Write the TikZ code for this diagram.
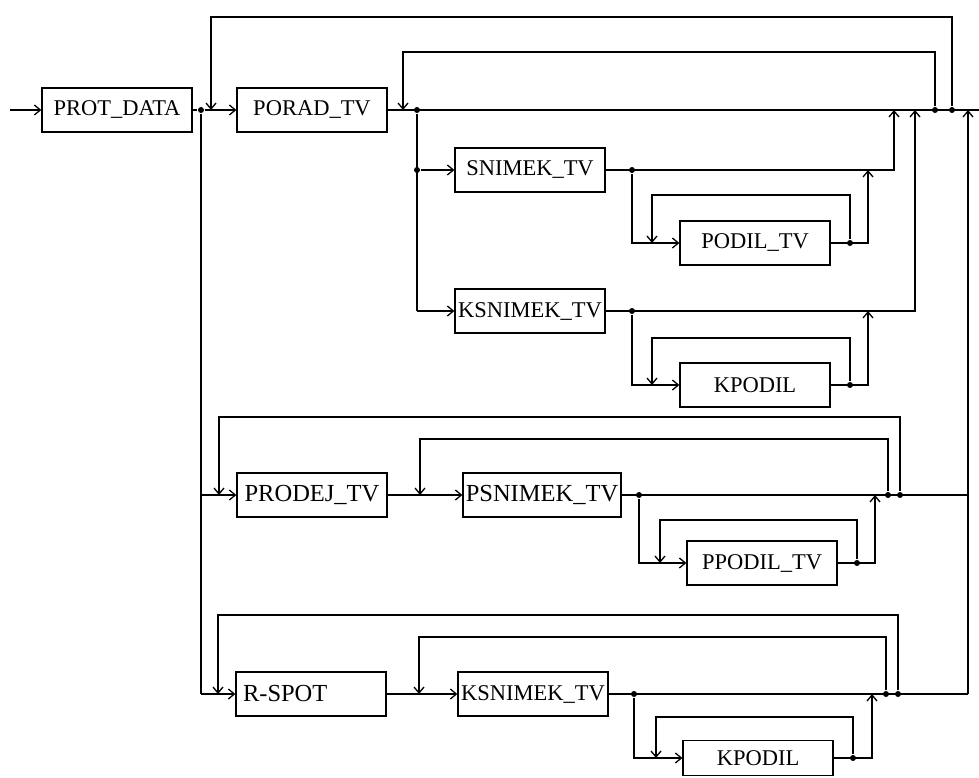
\documentclass[tikz,border=0pt]{standalone}
\usepackage{fontspec}
\setmainfont{Liberation Serif}
\usetikzlibrary{arrows.meta}

\tikzset{
  blok/.style={draw, minimum width=150pt, minimum height=44pt, inner sep=2pt, font=\fontsize{22.5}{26}\selectfont},
  blokv/.style={blok, font=\fontsize{24.5}{28}\selectfont},
  tecka/.style={circle, fill, inner sep=0pt, minimum size=6pt},
}

\begin{document}
\begin{tikzpicture}[x=1pt,y=-1pt,line width=1.3pt,>={Straight Barb[length=6pt,width=10pt]}]
\useasboundingbox (0,0) rectangle (979,778);

% Bloky
\node[blok] (prot) at (117,110) {PROT\_DATA};
\node[blok] (porad) at (312,110) {PORAD\_TV};
\node[blok] (snimek) at (530,170) {SNIMEK\_TV};
\node[blok] (podil) at (755,243) {PODIL\_TV};
\node[blok] (ksnimek) at (530,311) {KSNIMEK\_TV};
\node[blok] (kpodil) at (755,385) {KPODIL};
\node[blokv] (prodej) at (312,495) {PRODEJ\_TV};
\node[blokv, minimum width=158pt] (psnimek) at (542,495) {PSNIMEK\_TV};
\node[blok] (ppodil) at (762,563) {PPODIL\_TV};
\node[blokv, text width=136pt, inner xsep=7pt, align=left] (rspot) at (311,694) {R-SPOT};
\node[blok] (ksnimek2) at (533,694) {KSNIMEK\_TV};
\node[blok, minimum height=35pt] (kpodil2) at (758,758) {KPODIL};

% Tecky
\node[tecka] (j1) at (201,110) {};
\node[tecka] (j2) at (417,110) {};
\node[tecka] (j3) at (417,170) {};
\node[tecka] (f1) at (952,110) {};
\node[tecka] (f2) at (935,110) {};
\node[tecka] (s1) at (632,170) {};
\node[tecka] (s2) at (850,243) {};
\node[tecka] (k1) at (632,311) {};
\node[tecka] (k2) at (850,385) {};
\node[tecka] (p1) at (639,495) {};
\node[tecka] (p2) at (857,563) {};
\node[tecka] (p3) at (888,495) {};
\node[tecka] (p4) at (900,495) {};
\node[tecka] (r1) at (634,694) {};
\node[tecka] (r2) at (853,758) {};
\node[tecka] (r3) at (886,694) {};
\node[tecka] (r4) at (898,694) {};

% Volne konce
\coordinate (vstup) at (10,110);
\coordinate (e1) at (979,110);
\coordinate (d1) at (211,110);
\coordinate (d2) at (403,110);
\coordinate (u1) at (894,110);
\coordinate (u2) at (915,110);
\coordinate (u3) at (968,110);
\coordinate (a1) at (652,243);
\coordinate (a2) at (868,170);
\coordinate (a3) at (652,385);
\coordinate (a4) at (868,311);
\coordinate (b1) at (219,495);
\coordinate (b2) at (420,495);
\coordinate (b3) at (660,563);
\coordinate (b4) at (875,495);
\coordinate (b5) at (968,495);
\coordinate (c1) at (218,694);
\coordinate (c2) at (419,694);
\coordinate (c3) at (656,758);
\coordinate (c4) at (872,694);
\coordinate (c5) at (968,694);

% Hlavni vetev
\draw[->] (vstup) -- (prot);
\draw (prot) -- (j1);
\draw[->] (j1) -- (porad);
\draw (porad) -- (e1);
\draw[->] (f1) -- ++(0,-93) -| (d1);
\draw[->] (f2) -- ++(0,-58) -| (d2);

% Vetev SNIMEK_TV a KSNIMEK_TV
\draw (j2) -- (j2 |- ksnimek);
\draw[->] (j3) -- (snimek);
\draw[->] (j2 |- ksnimek) -- (ksnimek);
\draw[->] (snimek) -| (u1);
\draw[->] (s1) |- (podil);
\draw[->] (s2) -- ++(0,-48) -| (a1);
\draw[->] (podil) -| (a2);
\draw[->] (ksnimek) -| (u2);
\draw[->] (k1) |- (kpodil);
\draw[->] (k2) -- ++(0,-47) -| (a3);
\draw[->] (kpodil) -| (a4);

% Vetev PRODEJ_TV
\draw (j1) -- (j1 |- rspot);
\draw[->] (j1 |- prodej) -- (prodej);
\draw[->] (j1 |- rspot) -- (rspot);
\draw[->] (prodej) -- (psnimek);
\draw (psnimek) -- (b5);
\draw[->] (p4) -- ++(0,-78) -| (b1);
\draw[->] (p3) -- ++(0,-56) -| (b2);
\draw[->] (p1) |- (ppodil);
\draw[->] (p2) -- ++(0,-43) -| (b3);
\draw[->] (ppodil) -| (b4);

% Vetev R-SPOT
\draw[->] (rspot) -- (ksnimek2);
\draw (ksnimek2) -- (c5);
\draw[->] (r4) -- ++(0,-79) -| (c1);
\draw[->] (r3) -- ++(0,-57) -| (c2);
\draw[->] (r1) |- (kpodil2);
\draw[->] (r2) -- ++(0,-41) -| (c3);
\draw[->] (kpodil2) -| (c4);

% Prava svisla
\draw[->] (c5) -- (u3);

\end{tikzpicture}
\end{document}
